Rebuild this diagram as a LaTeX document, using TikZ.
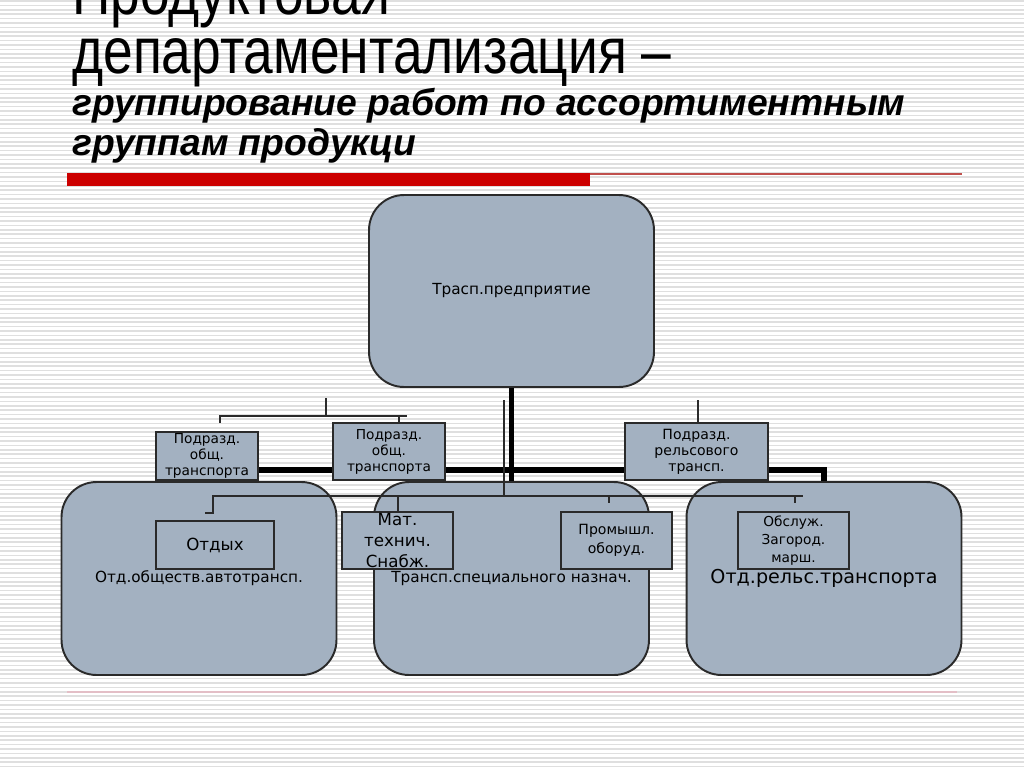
\documentclass[tikz,border=0pt]{standalone}
\usepackage{fontspec}
\setmainfont{DejaVu Sans}
\newfontfamily\titlefont{Liberation Sans}[FakeStretch=0.82]
\newfontfamily\subtitlefont{Liberation Sans}
\usepackage{xcolor}
\usepackage{tikz}
\definecolor{boxfill}{HTML}{A3B1C1}
\definecolor{stripe}{HTML}{DFDFDF}
\definecolor{barred}{HTML}{CC0000}
\definecolor{thinred}{HTML}{C0504D}
\definecolor{footline}{HTML}{E3BEC6}
\definecolor{edgegray}{HTML}{2A2A2A}

\tikzset{
    mainbox/.style={draw=edgegray,line width=1.1pt,fill=boxfill,rounded corners=0.7cm,inner sep=0pt,minimum width=5.5cm,minimum height=3.86cm,align=center,font=\fontsize{8.7}{10.5}\selectfont},
    subbox/.style={draw=edgegray,line width=0.8pt,fill=boxfill,inner sep=0pt,align=center,font=\fontsize{7.8}{9.1}\selectfont},
    thickline/.style={line width=3.4pt,black},
    thinline/.style={line width=0.7pt,edgegray},
}

\begin{document}
\begin{tikzpicture}[x=0.02cm,y=-0.02cm]
        \useasboundingbox (0,0) rectangle (1024,767);
        \clip (0,0) rectangle (1024,767);
        \foreach \y in {1,5.4,...,767}
            \draw[stripe,line width=0.85pt] (0,\y) -- (1024,\y);

        \fill[barred] (67,173) rectangle (590,186);
        \draw[thinred,line width=0.9pt] (590,174) -- (962,174);
        \draw[footline,line width=1.2pt] (67,692) -- (957,692);

        \node[anchor=base west,inner sep=0pt,text depth=0pt,font=\titlefont\fontsize{37}{37}\selectfont] (title1) at (72,15) {Продуктовая};
        \node[anchor=base west,inner sep=0pt,text height=20pt,font=\titlefont\fontsize{37}{37}\selectfont] (title2) at (72,73) {департаментализация –};
        \node[anchor=base west,inner sep=0pt,font=\subtitlefont\bfseries\itshape\fontsize{21.2}{21}\selectfont] (title3) at (72,115) {группирование работ по ассортиментным};
        \node[anchor=base west,inner sep=0pt,font=\subtitlefont\bfseries\itshape\fontsize{21.2}{21}\selectfont] (title4) at (72,155) {группам продукци};

        \node[mainbox,minimum width=5.7cm,minimum height=3.84cm] (predpr) at (511.5,291) {Трасп.предприятие};
        \node[mainbox] (avto) at (199,578.5) {Отд.обществ.автотрансп.};
        \node[mainbox] (spec) at (511.5,578.5) {Трансп.специального назнач.};
        \node[mainbox,font=\fontsize{10.9}{12}\selectfont] (rels) at (824,578.5) {Отд.рельс.транспорта};

        \draw[thickline] (predpr.south) -- (spec.north);
        \draw[thickline] (avto.north) |- (predpr.south |- 0,470) -| (rels.north);

        \coordinate (tl) at (326,398);
        \coordinate (tr) at (698,400);
        \coordinate (tc) at (504,400);
        \draw[thinline] (tl) -- (326,416);
        \draw[thinline] (220,423) |- (399,416) -- (399,423);
        \draw[thinline] (399,416) -- (407,416);
        \draw[thinline] (tr) -- (698,423);
        \draw[thinline] (tc) -- (504,496);
        \draw[thinline] (205,513) -- (213,513) |- (803,496);
        \draw[thinline] (398,496) -- (398,512);
        \draw[thinline] (609,496) -- (609,503);
        \draw[thinline] (795,496) -- (795,503);

        \node[subbox,minimum width=2.04cm,minimum height=0.96cm] (obsch1) at (207,456) {Подразд.\\общ.\\транспорта};
        \node[subbox,minimum width=2.24cm,minimum height=1.14cm] (obsch2) at (389,451.5) {Подразд.\\общ.\\транспорта};
        \node[subbox,minimum width=2.86cm,minimum height=1.14cm,font=\fontsize{8}{9.1}\selectfont] (relsov) at (696.5,451.5) {Подразд.\\рельсового\\трансп.};
        \node[subbox,minimum width=2.36cm,minimum height=0.96cm,font=\fontsize{9.5}{11}\selectfont] (otdyh) at (215,545) {Отдых};
        \node[subbox,minimum width=2.22cm,minimum height=1.14cm,font=\fontsize{9.5}{12}\selectfont] (mat) at (397.5,540.5) {Мат.\\технич.\\Снабж.};
        \node[subbox,minimum width=2.22cm,minimum height=1.14cm,font=\fontsize{8}{10.6}\selectfont] (prom) at (616.5,540.5) {Промышл.\\оборуд.};
        \node[subbox,minimum width=2.22cm,minimum height=1.14cm,font=\fontsize{7.8}{10.2}\selectfont] (obsl) at (793.5,540.5) {Обслуж.\\Загород.\\марш.};

        \end{tikzpicture}
\end{document}
